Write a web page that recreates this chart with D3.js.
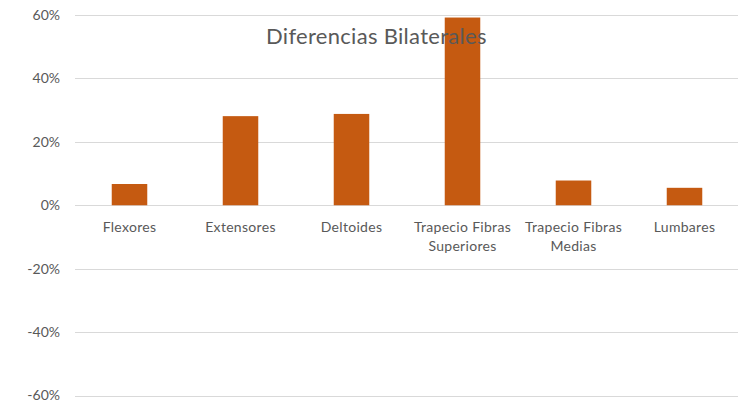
<!DOCTYPE html>
<html>
<head>
<meta charset="utf-8">
<script src="https://cdn.jsdelivr.net/npm/d3@7.9.0/dist/d3.min.js"></script>
<style>
  html, body { margin: 0; padding: 0; background: #fff; }
  svg { display: block; font-family: Lato, "Open Sans", sans-serif; }
</style>
</head>
<body>
<svg id="chart" width="742" height="404"></svg>
<script>
const categories = ["Flexores", "Extensores", "Deltoides", "Trapecio Fibras Superiores", "Trapecio Fibras Medias", "Lumbares"];
const categoryLines = [["Flexores"], ["Extensores"], ["Deltoides"], ["Trapecio Fibras", "Superiores"], ["Trapecio Fibras", "Medias"], ["Lumbares"]];
const values = [0.067, 0.281, 0.288, 0.592, 0.078, 0.055];
const yTicks = [-0.6, -0.4, -0.2, 0, 0.2, 0.4, 0.6];
const chartTitle = "Diferencias Bilaterales";

const svg = d3.select("#chart");

const x = d3.scaleBand()
  .domain(categories)
  .range([74, 740])
  .paddingInner(0.68)
  .paddingOuter(0.34);

const y = d3.scaleLinear()
  .domain([-0.6, 0.6])
  .range([395.5, 15]);

// gridlines
svg.append("g")
  .selectAll("line")
  .data(yTicks)
  .join("line")
  .attr("x1", 75)
  .attr("x2", 738)
  .attr("y1", d => Math.round(y(d)) + 0.5)
  .attr("y2", d => Math.round(y(d)) + 0.5)
  .attr("stroke", "#d9d9d9")
  .attr("stroke-width", 1);

// y axis labels, plain hyphen for negatives like the original
const pct = d => (d < 0 ? "-" : "") + Math.round(Math.abs(d) * 100) + "%";

const yAxis = d3.axisLeft(y)
  .tickValues(yTicks)
  .tickFormat(pct)
  .tickSize(0)
  .tickPadding(0);

svg.append("g")
  .attr("transform", "translate(60,0)")
  .call(yAxis)
  .call(g => g.select(".domain").remove())
  .call(g => g.selectAll("text")
    .attr("fill", "#595959")
    .attr("font-size", "14px")
    .attr("font-family", "Lato, sans-serif"));

// bars
svg.append("g")
  .selectAll("rect")
  .data(values)
  .join("rect")
  .attr("x", (d, i) => x(categories[i]))
  .attr("width", x.bandwidth())
  .attr("y", d => y(d))
  .attr("height", d => y(0) - y(d))
  .attr("fill", "#c55a11");

// category labels
const labels = svg.append("g")
  .selectAll("text")
  .data(categoryLines)
  .join("text")
  .attr("x", (d, i) => x(categories[i]) + x.bandwidth() / 2)
  .attr("y", 232)
  .attr("text-anchor", "middle")
  .attr("fill", "#595959")
  .attr("font-size", "14px")
  .attr("letter-spacing", "0.3px");

labels.selectAll("tspan")
  .data(d => d)
  .join("tspan")
  .attr("x", function() { return d3.select(this.parentNode).attr("x"); })
  .attr("dy", (d, i) => i === 0 ? 0 : 19)
  .text(d => d);

// title
svg.append("text")
  .attr("x", 266)
  .attr("y", 44)
  .attr("fill", "#595959")
  .attr("font-size", "22px")
  .attr("letter-spacing", "0.3px")
  .text(chartTitle);
</script>
</body>
</html>
